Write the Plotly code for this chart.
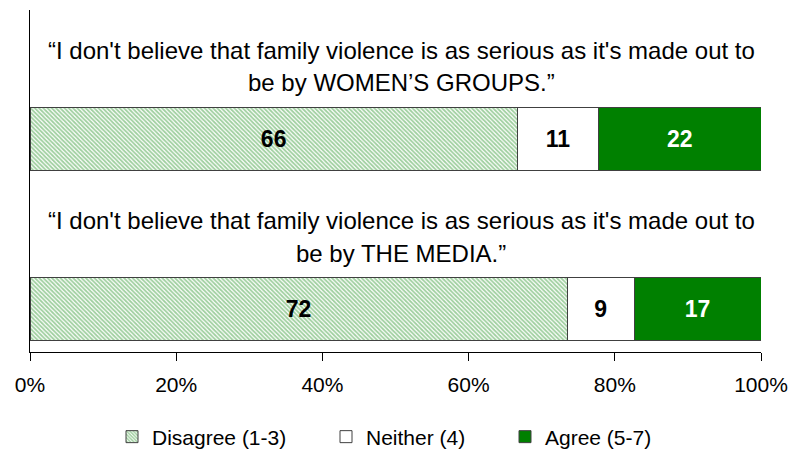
import plotly.graph_objects as go

statements = ["MEDIA", "WOMEN"]  # bottom to top
ypos = [0, 1]
disagree = [72, 66]
neither = [9, 11]
agree = [17, 22]
series_names = ["Disagree (1-3)", "Neither (4)", "Agree (5-7)"]
tick_vals = [0, 20, 40, 60, 80, 100]
tick_text = ["0%", "20%", "40%", "60%", "80%", "100%"]
title_lines = [
    ["\u201cI don't believe that family violence is as serious as it's made out to",
     "be by WOMEN\u2019S GROUPS.\u201d"],
    ["\u201cI don't believe that family violence is as serious as it's made out to",
     "be by THE MEDIA.\u201d"],
]

FONT = "Liberation Sans, Arial, sans-serif"
fig = go.Figure()
line = dict(color="#404040", width=1)
common = dict(orientation="h", width=0.365, textposition="inside",
              insidetextanchor="middle", constraintext="none")
fig.add_trace(go.Bar(
    y=ypos, x=disagree, name=series_names[0], legend="legend",
    text=[str(v) for v in disagree],
    textfont=dict(color="black", size=23, family=FONT, weight="bold"),
    marker=dict(color="white", line=line,
                pattern=dict(shape="\\", fgcolor="#3fa03f", bgcolor="white", size=3, solidity=0.6)),
    **common,
))
fig.add_trace(go.Bar(
    y=ypos, x=neither, name=series_names[1], legend="legend2",
    text=[str(v) for v in neither],
    textfont=dict(color="black", size=23, family=FONT, weight="bold"),
    marker=dict(color="white", line=line),
    **common,
))
fig.add_trace(go.Bar(
    y=ypos, x=agree, name=series_names[2], legend="legend3",
    text=[str(v) for v in agree],
    textfont=dict(color="white", size=23, family=FONT, weight="bold"),
    marker=dict(color="#008000", line=line),
    **common,
))

PLOT_L, PLOT_R, PLOT_T, PLOT_B = 30, 761, 10, 352
W, H = 791, 452
plot_h = PLOT_B - PLOT_T
plot_w = PLOT_R - PLOT_L

annotations = []
line_y_px = [[50, 83], [220, 253]]
for lines, ys in zip(title_lines, line_y_px):
    for txt, ypx in zip(lines, ys):
        annotations.append(dict(
            text=txt, xref="paper", yref="paper", x=(401 - PLOT_L) / plot_w,
            y=1 - (ypx - PLOT_T) / plot_h,
            xanchor="center", yanchor="middle", showarrow=False,
            font=dict(family=FONT, size=24, color="black"),
        ))

leg_y = 1 - (437 - PLOT_T) / plot_h
def leg(text_x):
    return dict(orientation="h", x=(text_x - 40 - PLOT_L) / plot_w, y=leg_y,
                xanchor="left", yanchor="middle", bgcolor="rgba(0,0,0,0)",
                font=dict(size=21, family=FONT, color="black"))

fig.update_layout(
    width=W, height=H,
    margin=dict(l=PLOT_L, r=W - PLOT_R, t=PLOT_T, b=H - PLOT_B, autoexpand=False),
    barmode="stack", barnorm="percent",
    plot_bgcolor="white", paper_bgcolor="white",
    font=dict(family=FONT, size=21, color="black"),
    showlegend=True,
    legend=leg(152), legend2=leg(366), legend3=leg(545),
    annotations=annotations,
)
fig.update_xaxes(range=[0, 100], tickvals=tick_vals, ticktext=tick_text,
                 showline=True, linecolor="black", linewidth=1, ticks="outside",
                 ticklen=8, tickcolor="black", showgrid=False, zeroline=False,
                 ticklabelstandoff=6,
                 tickfont=dict(size=21, family=FONT))
fig.update_yaxes(range=[-0.253, 1.759], showticklabels=False, showline=True,
                 linecolor="black", linewidth=1, showgrid=False, zeroline=False, ticks="")
fig.write_html("out.html", config={"displayModeBar": False},
               post_script="document.body.style.margin='0';document.body.style.overflow='hidden';")
